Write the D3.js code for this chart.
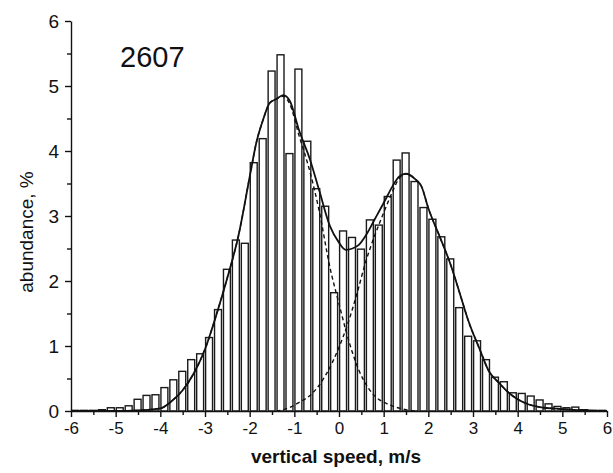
<!DOCTYPE html>
<html>
<head>
<meta charset="utf-8">
<script src="https://cdn.jsdelivr.net/npm/d3@7"></script>
<style>
  body { margin: 0; background: #fff; }
  text { font-family: "Liberation Sans", Arial, Helvetica, sans-serif; fill: #111; }
</style>
</head>
<body>
<svg width="613" height="473"></svg>
<script>
// histogram bins: left edge of each 0.2 m/s class
const binStart = [
  -6.0, -5.8, -5.6, -5.4, -5.2, -5.0, -4.8, -4.6, -4.4, -4.2,
  -4.0, -3.8, -3.6, -3.4, -3.2, -3.0, -2.8, -2.6, -2.4, -2.2,
  -2.0, -1.8, -1.6, -1.4, -1.2, -1.0, -0.8, -0.6, -0.4, -0.2,
   0.0,  0.2,  0.4,  0.6,  0.8,  1.0,  1.2,  1.4,  1.6,  1.8,
   2.0,  2.2,  2.4,  2.6,  2.8,  3.0,  3.2,  3.4,  3.6,  3.8,
   4.0,  4.2,  4.4,  4.6,  4.8,  5.0,  5.2,  5.4,  5.6,  5.8
]
const binWidth = 0.2

// abundance, % per bin
const abundance = [
  0.01, 0.01, 0.01, 0.02, 0.05, 0.05, 0.08, 0.18, 0.24, 0.25,
  0.36, 0.48, 0.61, 0.79, 0.88, 1.13, 1.56, 2.18, 2.63, 2.58,
  3.82, 4.19, 5.23, 5.48, 3.96, 5.26, 4.15, 3.42, 3.15, 1.82,
  2.77, 2.67, 2.49, 2.94, 2.86, 3.30, 3.86, 3.97, 3.53, 3.13,
  2.95, 2.68, 2.34, 1.59, 1.15, 1.08, 0.79, 0.52, 0.45, 0.28,
  0.27, 0.23, 0.17, 0.11, 0.07, 0.05, 0.06, 0.02, 0.01, 0.01
]

// fitted curves: [speed, abundance]
const fitTotal = [
  [-6, 0], [-5, 0], [-4.5, 0.01], [-4, 0.04], [-3.75, 0.15], [-3.5, 0.32],
  [-3.25, 0.58], [-3, 0.95], [-2.75, 1.47], [-2.5, 2.05], [-2.25, 2.7],
  [-2, 3.6], [-1.85, 4.13], [-1.7, 4.48], [-1.55, 4.74], [-1.4, 4.8],
  [-1.25, 4.86], [-1.1, 4.77], [-0.9, 4.33], [-0.65, 3.87], [-0.45, 3.41],
  [-0.2, 2.84], [0, 2.59], [0.15, 2.48], [0.3, 2.5], [0.45, 2.56],
  [0.6, 2.7], [0.8, 2.95], [1.0, 3.2], [1.2, 3.46], [1.35, 3.61],
  [1.5, 3.65], [1.7, 3.57], [1.85, 3.45], [2.0, 3.12], [2.25, 2.69],
  [2.5, 2.25], [2.7, 1.82], [2.9, 1.38], [3.15, 0.95], [3.35, 0.62],
  [3.6, 0.42], [3.8, 0.28], [4.0, 0.18], [4.25, 0.1], [4.5, 0.06],
  [5, 0.03], [5.5, 0.01], [6, 0]
]
const fitDown = [
  [-6, 0], [-5, 0], [-4.5, 0.01], [-4, 0.04], [-3.75, 0.15], [-3.5, 0.32],
  [-3.25, 0.58], [-3, 0.95], [-2.75, 1.47], [-2.5, 2.05], [-2.25, 2.7],
  [-2, 3.6], [-1.85, 4.13], [-1.7, 4.48], [-1.55, 4.74], [-1.4, 4.8],
  [-1.25, 4.84], [-1.1, 4.72], [-0.9, 4.25], [-0.65, 3.68], [-0.45, 3.1],
  [-0.2, 2.2], [0, 1.65], [0.15, 1.25], [0.3, 0.9], [0.45, 0.62],
  [0.65, 0.36], [0.85, 0.2], [1.05, 0.12], [1.5, 0.02], [1.7, 0]
]
const fitUp = [
  [-1.4, 0], [-1.2, 0.03], [-0.9, 0.13], [-0.6, 0.27], [-0.3, 0.55],
  [0, 0.98], [0.2, 1.35], [0.4, 1.8], [0.6, 2.3], [0.8, 2.7], [1.0, 3.05],
  [1.15, 3.3], [1.35, 3.58], [1.5, 3.65], [1.7, 3.57], [1.85, 3.45],
  [2.0, 3.12], [2.25, 2.69], [2.5, 2.25], [2.7, 1.82], [2.9, 1.38],
  [3.15, 0.95], [3.35, 0.62], [3.6, 0.42], [3.8, 0.28], [4.0, 0.18],
  [4.25, 0.1], [4.5, 0.06], [5, 0.03], [5.5, 0.01], [6, 0]
]

const xTicks = [-6, -5, -4, -3, -2, -1, 0, 1, 2, 3, 4, 5, 6]
const xMinor = [-5.5, -4.5, -3.5, -2.5, -1.5, -0.5, 0.5, 1.5, 2.5, 3.5, 4.5, 5.5]
const yTicks = [0, 1, 2, 3, 4, 5, 6]
const yMinor = [0.5, 1.5, 2.5, 3.5, 4.5, 5.5]

const svg = d3.select('svg')

const xScale = d3.scaleLinear()
    .domain([-6, 6])
    .range([71, 607])

const yScale = d3.scaleLinear()
    .domain([0, 6])
    .range([411, 21])

// bars
svg.append('g')
  .selectAll('rect')
  .data(binStart)
  .join('rect')
    .attr('x', d => xScale(d) + 0.6)
    .attr('y', (d, i) => yScale(abundance[i]))
    .attr('width', d => xScale(d + binWidth) - xScale(d) - 2)
    .attr('height', (d, i) => yScale(0) - yScale(abundance[i]))
    .attr('fill', '#fff')
    .attr('stroke', '#1a1a1a')
    .attr('stroke-width', 1.4)

const lineGen = d3.line()
    .x(d => xScale(d[0]))
    .y(d => yScale(d[1]))
    .curve(d3.curveMonotoneX)

// single-mode fits, dashed
;[fitDown, fitUp].forEach(f => {
  svg.append('path')
      .attr('d', lineGen(f))
      .attr('fill', 'none')
      .attr('stroke', '#111')
      .attr('stroke-width', 1.4)
      .attr('stroke-dasharray', '4,3')
})

// sum of both modes
svg.append('path')
    .attr('d', lineGen(fitTotal))
    .attr('fill', 'none')
    .attr('stroke', '#111')
    .attr('stroke-width', 1.8)

// axes
const xAxis = svg.append('g')
    .attr('transform', `translate(0,${yScale(0)})`)
    .call(d3.axisBottom(xScale).tickValues(xTicks).tickSize(6).tickSizeOuter(0)
      .tickFormat(d => String(d)))
xAxis.selectAll('text')
    .attr('dy', '0.71em')
    .attr('y', 11)
    .style('font-size', '17px')

svg.append('g')
    .attr('transform', `translate(0,${yScale(0)})`)
    .call(d3.axisBottom(xScale).tickValues(xMinor).tickSize(4).tickFormat(''))
    .select('.domain').remove()

const yAxis = svg.append('g')
    .attr('transform', `translate(${xScale(-6)},0)`)
    .call(d3.axisLeft(yScale).tickValues(yTicks).tickSize(6).tickSizeOuter(0)
      .tickFormat(d => String(d)))
yAxis.selectAll('text')
    .attr('x', -12)
    .style('font-size', '19px')

svg.append('g')
    .attr('transform', `translate(${xScale(-6)},0)`)
    .call(d3.axisLeft(yScale).tickValues(yMinor).tickSize(4).tickFormat(''))
    .select('.domain').remove()

svg.selectAll('.domain, .tick line')
    .attr('stroke', '#111')
    .attr('stroke-width', 1.4)

// labels
svg.append('text')
    .attr('x', 336)
    .attr('y', 463)
    .attr('text-anchor', 'middle')
    .style('font-size', '19px')
    .style('font-weight', 'bold')
    .text('vertical speed, m/s')

svg.append('text')
    .attr('transform', 'translate(33,232) rotate(-90)')
    .attr('text-anchor', 'middle')
    .style('font-size', '19px')
    .text('abundance, %')

svg.append('text')
    .attr('x', 120)
    .attr('y', 67)
    .style('font-size', '29px')
    .text('2607')
</script>
</body>
</html>
